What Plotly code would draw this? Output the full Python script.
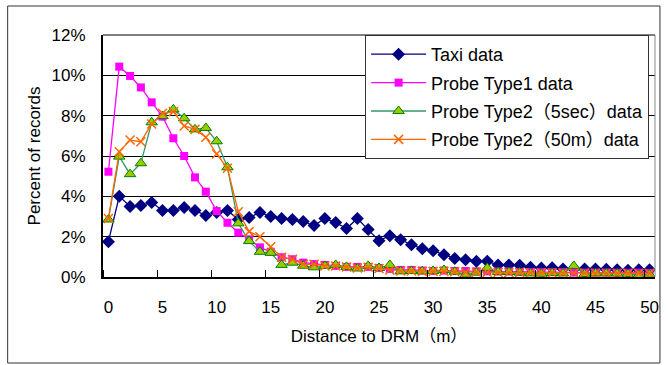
import plotly.graph_objects as go

distance = list(range(0, 51))

taxi = [1.75, 4.0, 3.5, 3.55, 3.7, 3.3, 3.3, 3.45, 3.3, 3.05,
        3.2, 3.3, 2.85, 2.95, 3.2, 3.0, 2.9, 2.85, 2.75, 2.55,
        2.9, 2.7, 2.4, 2.9, 2.35, 1.8, 2.05, 1.85, 1.6, 1.4,
        1.3, 1.1, 0.92, 0.85, 0.78, 0.78, 0.6, 0.6, 0.58, 0.48,
        0.45, 0.46, 0.4, 0.4, 0.4, 0.4, 0.38, 0.36, 0.34, 0.36, 0.36]

probe_type1 = [5.22, 10.43, 9.97, 9.4, 8.66, 7.95, 6.88, 6.0, 4.94, 4.23,
               3.27, 2.69, 2.2, 1.87, 1.47, 1.25, 0.98, 0.88, 0.71, 0.64,
               0.6, 0.55, 0.5, 0.5, 0.5, 0.45, 0.4, 0.35, 0.35, 0.32,
               0.3, 0.32, 0.3, 0.3, 0.28, 0.28, 0.27, 0.27, 0.25, 0.25,
               0.24, 0.24, 0.24, 0.22, 0.22, 0.22, 0.22, 0.21, 0.21, 0.21, 0.2]

probe_type2_5sec = [2.85, 5.97, 5.1, 5.64, 7.67, 7.98, 8.31, 7.87, 7.32, 7.39,
                    6.73, 5.44, 2.66, 1.78, 1.25, 1.2, 0.6, 0.71, 0.56, 0.48,
                    0.55, 0.6, 0.5, 0.42, 0.55, 0.45, 0.6, 0.28, 0.3, 0.28,
                    0.3, 0.35, 0.26, 0.12, 0.22, 0.45, 0.25, 0.25, 0.22, 0.18,
                    0.16, 0.2, 0.18, 0.55, 0.15, 0.18, 0.18, 0.17, 0.15, 0.1, 0.12]

probe_type2_50m = [2.9, 6.21, 6.79, 6.71, 7.59, 8.12, 8.2, 7.49, 7.32, 6.93,
                   6.1, 5.39, 3.24, 2.25, 2.0, 1.5, 0.98, 0.88, 0.63, 0.63,
                   0.55, 0.55, 0.5, 0.45, 0.48, 0.42, 0.35, 0.3, 0.3, 0.28,
                   0.28, 0.28, 0.26, 0.24, 0.24, 0.24, 0.22, 0.22, 0.22, 0.21,
                   0.21, 0.2, 0.2, 0.2, 0.2, 0.19, 0.19, 0.19, 0.18, 0.18, 0.18]

series_names = ["Taxi data", "Probe Type1 data", "Probe Type2（5sec）data", "Probe Type2（50m）data"]
y_tick_values = [0, 2, 4, 6, 8, 10, 12]
y_tick_labels = ["0%", "2%", "4%", "6%", "8%", "10%", "12%"]
x_tick_values = [0, 5, 10, 15, 20, 25, 30, 35, 40, 45, 50]

FONT = "Liberation Sans, Arial, Noto Sans CJK JP, sans-serif"

fig = go.Figure()
fig.add_trace(go.Scatter(
    x=distance, y=taxi, name=series_names[0], mode="lines+markers",
    line=dict(color="#000080", width=1.3),
    marker=dict(symbol="diamond", size=10, color="#000080"),
    legendgroup="a"))
fig.add_trace(go.Scatter(
    x=distance, y=probe_type1, name=series_names[1], mode="lines+markers",
    line=dict(color="#FF00FF", width=1.3),
    marker=dict(symbol="square", size=8, color="#FF00FF"),
    legendgroup="b"))
fig.add_trace(go.Scatter(
    x=distance, y=probe_type2_5sec, name=series_names[2], mode="lines+markers",
    line=dict(color="#339966", width=1.3),
    marker=dict(symbol="triangle-up", size=10, color="#99CC00",
                line=dict(color="#008000", width=1)),
    legendgroup="c"))
fig.add_trace(go.Scatter(
    x=distance, y=probe_type2_50m, name=series_names[3], mode="lines+markers",
    line=dict(color="#FF6600", width=1.3),
    marker=dict(symbol="x-thin", size=9, color="#FF6600",
                line=dict(color="#FF6600", width=1.5)),
    legendgroup="d"))

fig.update_layout(
    width=668, height=365,
    margin=dict(l=103, r=9, t=35, b=88),
    paper_bgcolor="white", plot_bgcolor="white",
    font=dict(family=FONT, size=17, color="black"),
    showlegend=True,
    legend=dict(
        x=0.4748, y=1, xanchor="left", yanchor="top",
        bgcolor="white", bordercolor="#333333", borderwidth=1,
        font=dict(family=FONT, size=18, color="black"),
        itemwidth=55, tracegroupgap=2, traceorder="grouped",
    ),
    xaxis=dict(
        range=[-0.5, 50.5], tickmode="array", tickvals=x_tick_values,
        ticks="", showgrid=False, zeroline=False,
        showline=True, linecolor="black", linewidth=2,
        ticklabelstandoff=14,
        tickfont=dict(family=FONT, size=17),
        title=dict(text="Distance to DRM（m）", font=dict(family=FONT, size=17), standoff=14),
        minor=dict(tick0=4.5, dtick=5, ticks="inside", ticklen=7, tickcolor="black", tickwidth=1, showgrid=False),
    ),
    yaxis=dict(
        range=[0, 12], tickmode="array", tickvals=y_tick_values, ticktext=y_tick_labels,
        ticks="", showgrid=True, gridcolor="black", gridwidth=1, zeroline=False,
        showline=True, linecolor="black", linewidth=2,
        ticklabelstandoff=12,
        tickfont=dict(family=FONT, size=17),
        title=dict(text="Percent of records", font=dict(family=FONT, size=17), standoff=7),
    ),
    shapes=[
        dict(type="line", xref="paper", yref="paper", x0=1, x1=1, y0=0, y1=1,
             line=dict(color="#888888", width=1)),
        dict(type="line", xref="paper", yref="paper", x0=0, x1=1, y0=1, y1=1,
             line=dict(color="black", width=1)),
        dict(type="rect", xref="paper", yref="paper", x0=-0.1727, x1=1.0090, y0=-0.3554, y1=1.1198,
             line=dict(color="#333333", width=1)),
    ],
)

fig.write_html("out.html", config={"displayModeBar": False},
               post_script="document.body.style.margin='0';")
